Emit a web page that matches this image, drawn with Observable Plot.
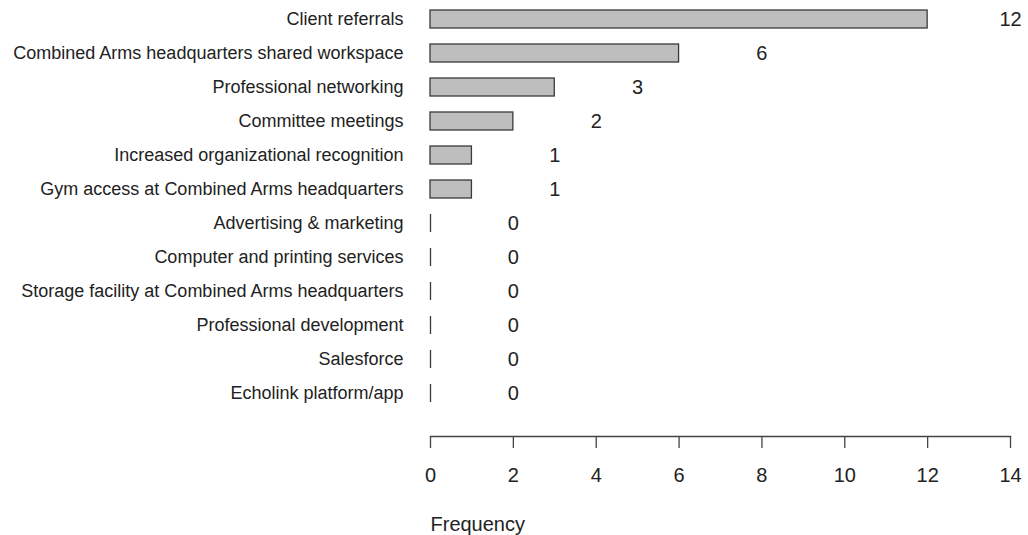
<!DOCTYPE html>
<html>
<head>
<meta charset="utf-8">
<script src="https://cdn.jsdelivr.net/npm/d3@7"></script>
<script src="https://cdn.jsdelivr.net/npm/@observablehq/plot@0.6"></script>
<style>
  html, body { margin: 0; padding: 0; background: #fff; }
</style>
</head>
<body>
<div id="chart"></div>
<script>
const categories = [
  "Client referrals",
  "Combined Arms headquarters shared workspace",
  "Professional networking",
  "Committee meetings",
  "Increased organizational recognition",
  "Gym access at Combined Arms headquarters",
  "Advertising & marketing",
  "Computer and printing services",
  "Storage facility at Combined Arms headquarters",
  "Professional development",
  "Salesforce",
  "Echolink platform/app"
];
const values = [12, 6, 3, 2, 1, 1, 0, 0, 0, 0, 0, 0];
const xTicks = [0, 2, 4, 6, 8, 10, 12, 14];
const xLabel = "Frequency";

const data = categories.map((c, i) => ({category: c, value: values[i]}));
const font = "'Liberation Sans', Arial, sans-serif";

const chart = Plot.plot({
  width: 1028,
  height: 535,
  marginLeft: 430,
  marginRight: 18,
  marginTop: 0,
  marginBottom: 99,
  style: {fontFamily: font, color: "#222", background: "#fff"},
  x: {domain: [0, 14], ticks: xTicks},
  y: {domain: categories, range: [2, 410], paddingInner: 0.47, paddingOuter: 0.235, align: 0.5},
  marks: [
    Plot.barX(data, {
      x: "value", y: "category",
      fill: "#bebebe", stroke: "#3a3a3a", strokeWidth: 1.3
    }),
    Plot.tickX(data.filter(d => d.value === 0), {
      x: "value", y: "category",
      stroke: "#3a3a3a", strokeWidth: 1.3
    }),
    Plot.text(data, {
      x: d => d.value + 2, y: "category", text: d => String(d.value),
      fontSize: 20, fill: "#222", textAnchor: "middle"
    }),
    Plot.axisY({
      tickSize: 0, tickPadding: 27, fontSize: 18, label: null, fill: "#222"
    }),
    Plot.frame({anchor: "bottom", stroke: "#444", strokeWidth: 1.3}),
    Plot.axisX({
      ticks: xTicks, tickSize: 12, tickPadding: 19, fontSize: 20,
      label: null, stroke: "#444", strokeWidth: 1.3, fill: "#222"
    }),
    Plot.text([xLabel], {
      frameAnchor: "bottom-left", dy: 88, textAnchor: "start",
      lineAnchor: "middle", fontSize: 20, fill: "#222"
    })
  ]
});
document.getElementById("chart").appendChild(chart);
</script>
</body>
</html>
